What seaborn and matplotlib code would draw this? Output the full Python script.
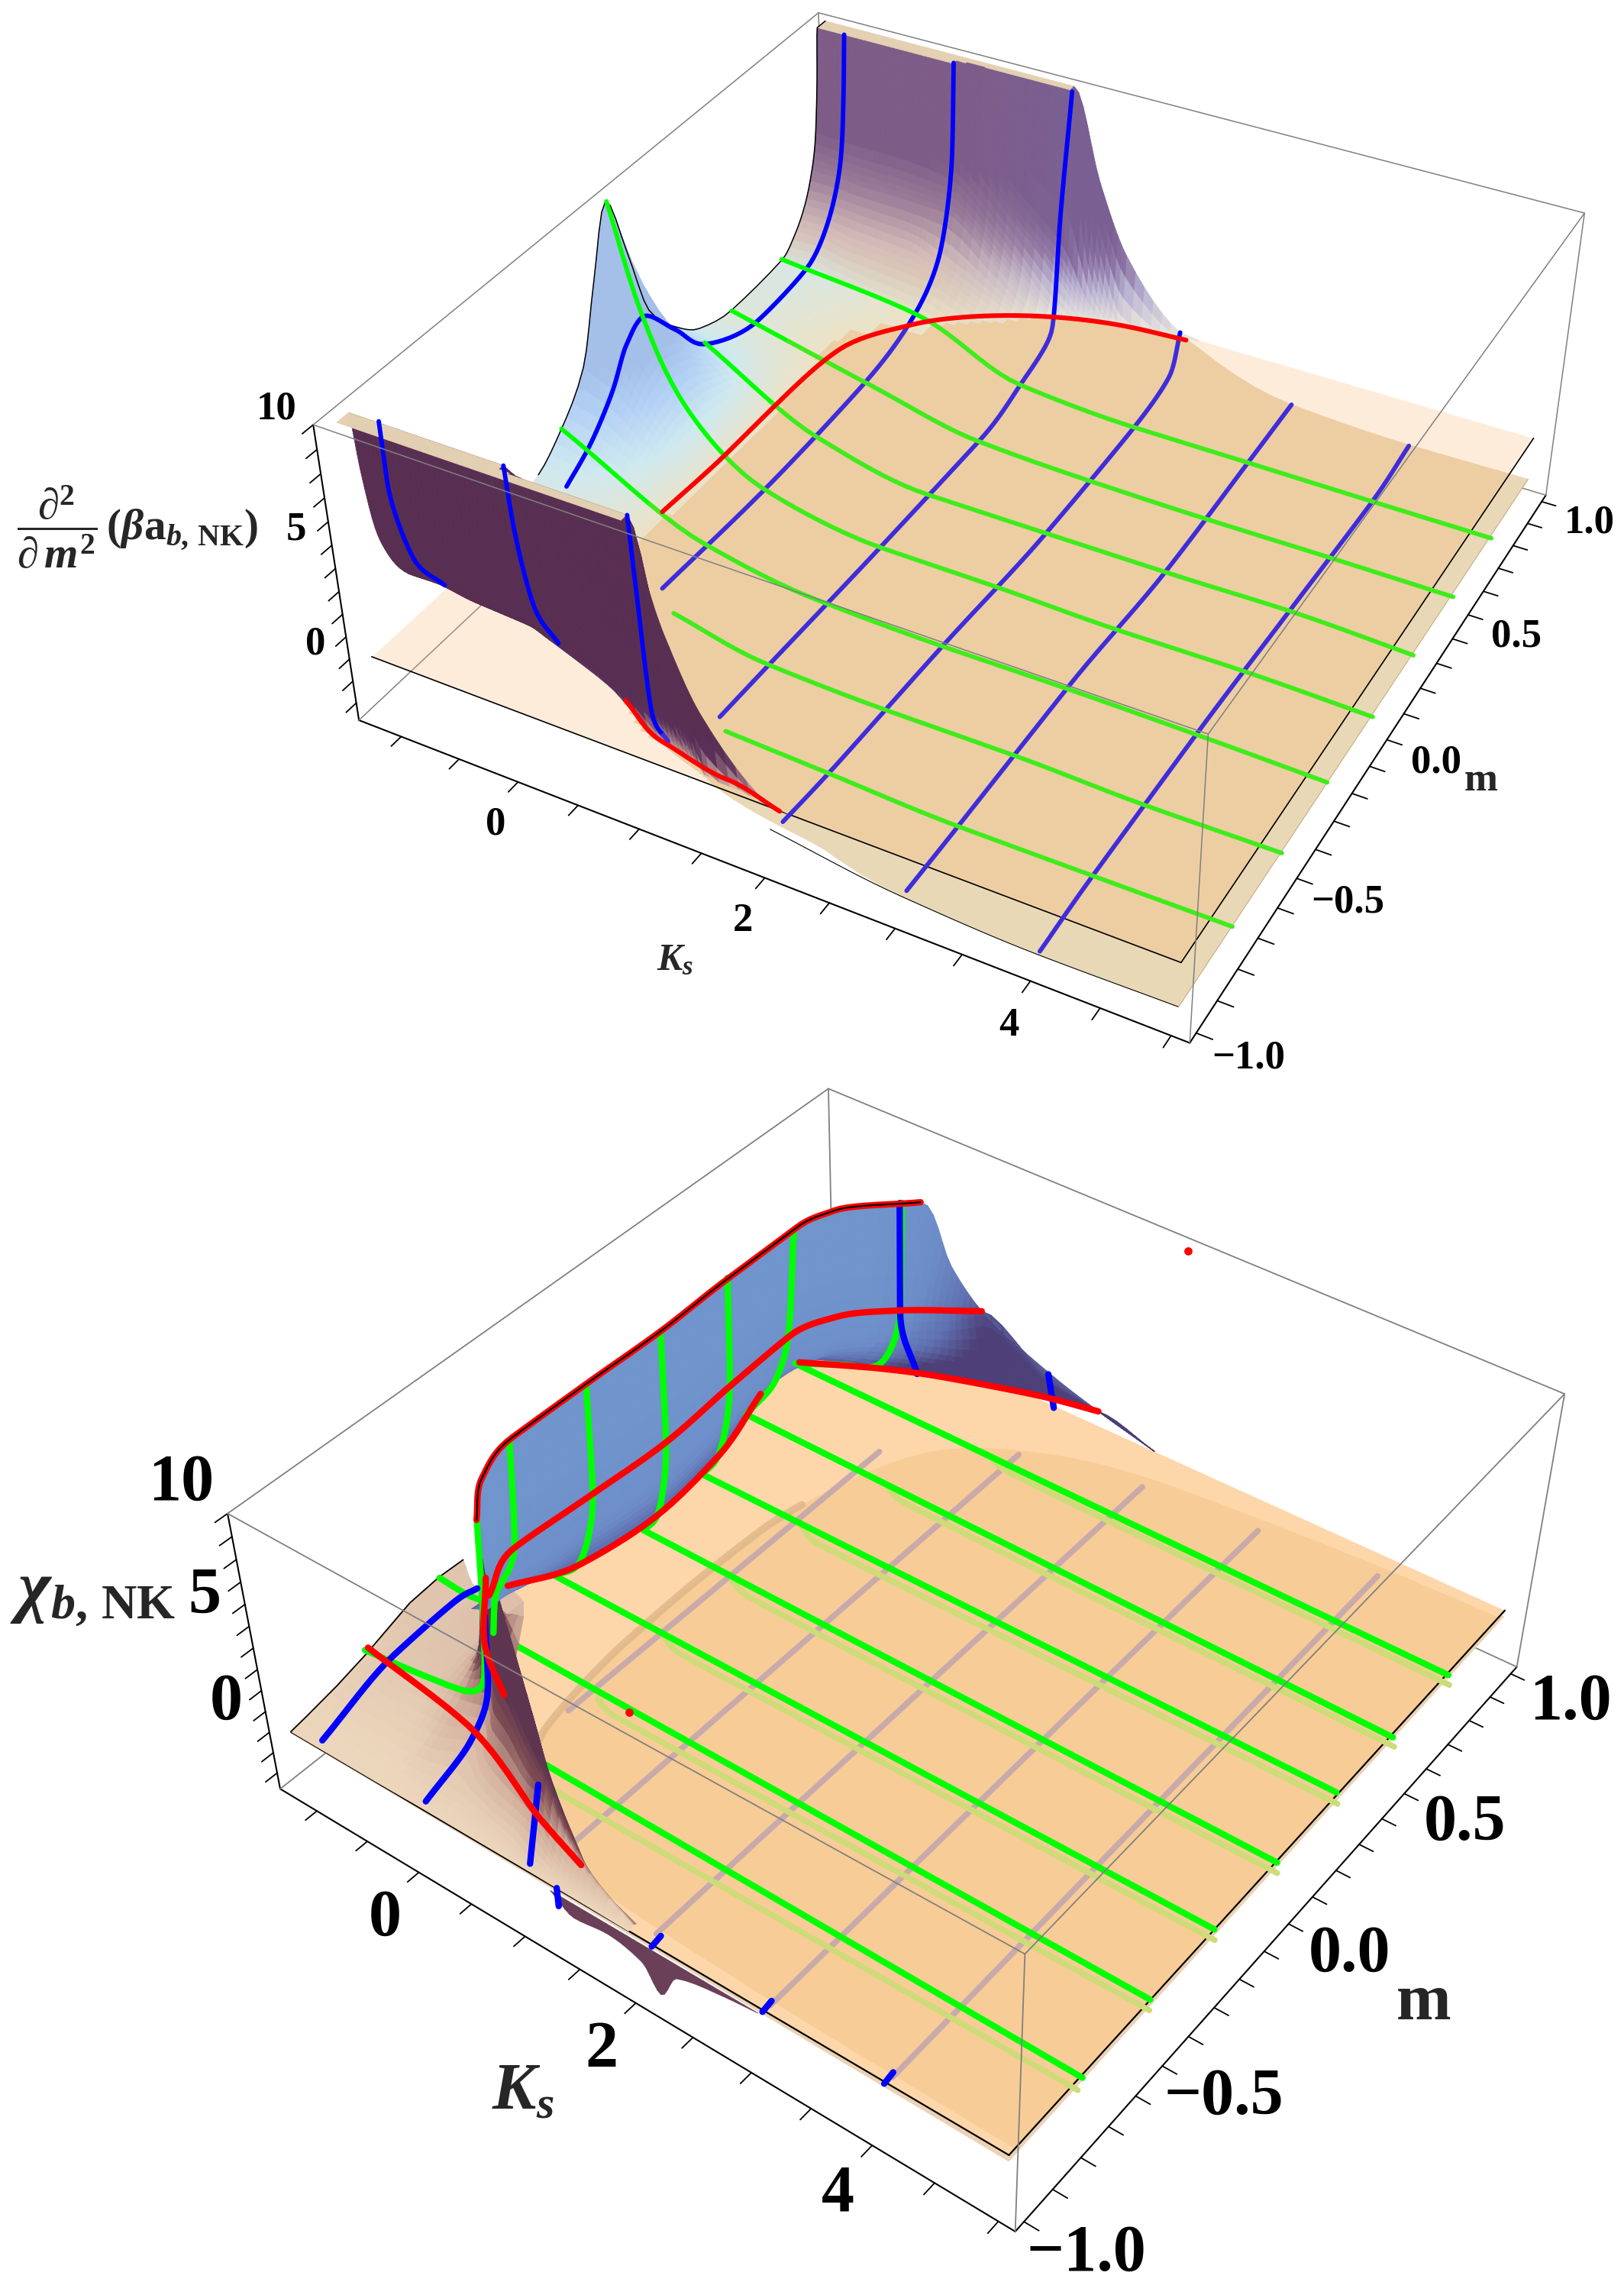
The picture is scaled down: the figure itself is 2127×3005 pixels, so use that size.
import numpy as np
import matplotlib
matplotlib.use('Agg')
import matplotlib.pyplot as plt
from matplotlib.colors import to_rgba
from matplotlib.transforms import Affine2D
from mpl_toolkits.mplot3d.art3d import Poly3DCollection
import seaborn as sns

W, H = 2127, 3005
sns.set_theme(style='white')
plt.rcParams['font.family'] = ['Liberation Serif', 'DejaVu Sans']
plt.rcParams['font.weight'] = 'bold'
plt.rcParams['mathtext.fontset'] = 'custom'
plt.rcParams['mathtext.rm'] = 'Liberation Serif:bold'
plt.rcParams['mathtext.it'] = 'Liberation Serif:italic:bold'
plt.rcParams['mathtext.bf'] = 'Liberation Serif:bold'

# ---------- axis ranges and ticks ----------
KS_RANGE = (-1.37, 5.13)
M_RANGE = (-1.03, 1.03)
Z_RANGE = (-2.8, 10)
ks_ticks = [-1, -.5, 0, .5, 1, 1.5, 2, 2.5, 3, 3.5, 4, 4.5, 5]
ks_labels = ['', '', '0', '', '', '', '2', '', '', '', '4', '', '']
m_ticks = [-1, -.9, -.8, -.7, -.6, -.5, -.4, -.3, -.2, -.1, 0, .1, .2, .3, .4, .5, .6, .7, .8, .9, 1]
m_labels = ['\u22121.0', '', '', '', '', '\u22120.5', '', '', '', '', '0.0', '', '', '', '', '0.5', '', '', '', '', '1.0']
z_ticks = [-2, -1, 0, 1, 2, 3, 4, 5, 6, 7, 8, 9, 10]
z_labels = ['', '', '0', '', '', '', '', '5', '', '', '', '', '10']

top_ks = [-1.25, -1, -.75, -.5, -.25, 0, .5, 1, 1.25, 1.5, 2, 3, 4, 5]
top_mabs = [0, .07, .14, .25, .35, .5, .75, .82, .87, .91, .93, .95, .96, .98, 1]
top_z = [
 [10, 7.2, 4.0, 2.2, 1.2, .7, .9, 1.6, 2.5, 3.8, 4.9, 7.6, 10, 10, 10],
 [5.35, 4.75, 3.4, 1.85, 1.1, .6, .95, 1.65, 2.5, 3.8, 4.85, 7.6, 10, 10, 10],
 [3, 2.8, 2.2, 1.4, .8, .35, .75, 1.4, 2.4, 3.7, 4.8, 7.6, 10, 10, 10],
 [1.2, 1.1, 1, .6, .35, .05, .5, 1.3, 2.3, 3.7, 4.8, 7.6, 10, 10, 10],
 [-.25, -.25, -.25, -.3, -.3, -.4, .3, 1.2, 2.2, 3.65, 4.7, 7.6, 10, 10, 10],
 [-.95, -.95, -.95, -.95, -.9, -.85, .12, 1, 1.7, 3.6, 4.6, 6.8, 10, 10, 10],
 [-1.55, -1.55, -1.55, -1.5, -1.45, -1.4, -.8, -.05, .55, 1.6, 2.5, 4, 5.5, 10, 10],
 [-2, -2, -2, -1.95, -1.95, -1.9, -1.6, -1.1, -.75, -.45, -.1, 1.4, 3, 10, 10],
 [-2, -2, -2, -1.95, -1.95, -1.9, -1.75, -1.5, -1.2, -.95, -.7, -.1, .6, 3, 6],
 [-2, -2, -2, -1.95, -1.95, -1.9, -1.85, -1.7, -1.5, -1.3, -1.05, -.8, -.6, -.2, 3],
 [-2, -2, -2, -2, -2, -2, -1.8, -1.7, -1.65, -1.6, -1.55, -1.45, -1.35, -.9, .1],
 [-1.95, -1.95, -1.95, -1.95, -1.95, -1.95, -1.9, -1.9, -1.85, -1.85, -1.85, -1.8, -1.8, -1.78, -1.75],
 [-2, -2, -2, -2, -2, -2, -2, -2, -2, -2, -2, -2, -2, -2, -2],
 [-1.95, -1.95, -1.95, -1.95, -1.95, -1.95, -1.95, -1.95, -1.95, -1.95, -1.95, -1.95, -1.95, -1.95, -1.95],
]

# upper panel mesh lines: (ks, m, z)
top_blue = [
 ([-1]*4, [-.96, -.96, -.91, -.82], [10.07, 7.62, 3.81, 1.65]),
 ([-1]*13, [-.35, -.25, -.14, -.07, 0, .13, .25, .5, .74, .87, .93, .95, .96], [1.1, 1.9, 3.35, 4.77, 5.34, 3.6, 1.79, .6, .92, 2.53, 4.85, 7.6, 10]),
 ([0]*4, [-.96, -.95, -.91, -.84], [10, 7.59, 3.6, 1.2]),
 ([0]*7, [-.44, 0, .5, .74, .88, .95, .96], [-.81, -.98, -.69, .12, 1.84, 6, 10.03]),
 ([1]*4, [-.98, -.97, -.95, -.9], [10, 6.72, 1.38, -.46]),
 ([1]*8, [-.7, -.5, .01, .51, .73, .9, .94, .99], [-1.77, -1.82, -1.98, -2.03, -1.47, -.51, 4.78, 9.84]),
 ([2]*7, [-.95, -.76, -.25, .26, .74, .95, 1], [-1.31, -1.51, -1.76, -2.14, -2, -1.45, .11]),
 ([3]*6, [-.98, -.76, -.25, .26, .73, 1], [-1.78, -1.8, -1.78, -2.16, -1.92, -1.76]),
 ([4]*6, [-.99, -.75, -.24, .27, .78, 1.01], [-2.03, -1.9, -1.95, -2.2, -2.46, -2.17]),
]
top_green = [
 ([-1.26, .01, .97, 1.99, 2.98, 4.03, 5], [.75]*7, [.89, .17, -1.73, -2.09, -2.11, -2.14, -2.15]),
 ([-1.25, .03, 1.01, 1.97, 2.99, 4.02, 5], [.5]*7, [.67, -.86, -1.94, -2.15, -2.21, -2.19, -2.2]),
 ([-.99, .02, .99, 2.02, 3.02, 4.02, 5], [.25]*7, [1.88, -.96, -1.98, -1.99, -1.99, -1.92, -2.1]),
 ([-1.24, -1, -.68, -.01, 1.03, 2, 2.98, 4.01, 5.01], [0]*9, [10.03, 5.48, 2, -.82, -1.79, -1.82, -1.93, -1.88, -1.99]),
 ([-1.24, -.02, .95, 1.99, 3, 4.01, 5], [-.25]*7, [2.31, -.85, -1.67, -1.81, -1.78, -1.83, -1.94]),
 ([.22, 1, 1.97, 3, 4, 5.01], [-.5]*6, [-.87, -1.7, -1.86, -1.84, -1.97, -1.92]),
 ([1.15, 1.98, 2.99, 4, 5.01], [-.75]*5, [-1.51, -1.7, -1.93, -1.91, -1.87]),
]
top_red = [
 ([-.38, -.33, -.35, -.25, 0, .5, 1, 1.5, 2], [-.25, 0, .25, .5, .73, .83, .93, 1, 1.04], [-.01, .13, .03, .38, -.17, .12, -.08, -.36, -.63]),
 ([.6, 1, 1.5, 2], [-.87, -.92, -.92, -.96], [.2, -.23, -.85, -.71]),
]

# ---------- lower panel ----------
sheet_ks = [-1.25, 3, 4, 5]
sheet_mabs = [0, .9, .95, 1]
sheet_z = [
 [-.05, -.05, -.05, -.05],
 [-.2, -.2, -.2, -.2],
 [-.25, -.25, -.25, -.25],
 [-.3, -.3, -.3, -.3],
]
# outline of the dome seen through the plate, as (ks, m) on z = 0
dome_ks = [5, 4.07, 1.97, 1.16, .51, .2, .03, .01, .03, .19, .4, .6, 1, 3, 5]
dome_m = [.97, .96, .9, .82, .67, .45, .17, -.08, -.33, -.67, -.76, -.85, -.93, -.97, -.98]
# hump left of the wall: one row of m and z per ks station
hump_ks = [-1.25, -1, -.75, -.5, -.25, 0, .25, .5, .75, 1, 1.25, 1.5, 1.9]
hump_m = [
 [-1, -.95, -.85, -.75, -.6, -.5, -.42],
 [-1, -.95, -.85, -.74, -.6, -.53, -.46],
 [-1, -.95, -.85, -.75, -.65, -.55, -.45],
 [-1, -.95, -.85, -.75, -.65, -.55, -.47],
 [-1, -.95, -.85, -.75, -.7, -.66, -.62],
 [-1, -.95, -.83, -.76, -.74, -.72, -.69],
 [-1, -.95, -.88, -.82, -.79, -.77, -.745],
 [-1, -.96, -.91, -.86, -.84, -.82, -.8],
 [-1, -.97, -.93, -.9, -.88, -.86, -.84],
 [-1, -.99, -.96, -.94, -.92, -.9, -.885],
 [-1, -.99, -.98, -.96, -.95, -.93, -.92],
 [-1, -.995, -.99, -.98, -.97, -.96, -.945],
 [-1, -.998, -.995, -.99, -.985, -.98, -.975],
]
hump_z = [
 [.02, .15, .45, .85, 1.6, 1.75, 1.7],
 [.02, .1, .65, 1.32, 1.6, 1.6, 1.41],
 [.02, .1, .7, 1.4, 1.8, 2, 2],
 [.02, .1, .75, 1.7, 2, 2.2, 2.2],
 [.03, .15, .85, 2, 3, 6, .3],
 [.05, .2, 1.04, 2.51, 5.87, 10, .1],
 [.05, .25, 1, 3, 6, 8, .05],
 [.05, .3, 1.1, 3.2, 5.5, 7, .03],
 [.05, .3, 1.2, 3, 4.5, 5, .02],
 [.05, .24, 1.5, 3.34, 4, 3, .02],
 [.03, .2, .7, 1.6, 2.2, 1.5, .02],
 [.02, .1, .4, .9, 1.1, .6, .02],
 [0, 0, .05, .1, .1, .05, 0],
]
# wall: stations from the near end to the far tail; top, middle, low and base rows
wall_ks = [
 [0, -.27, -.4, -.39, -.37, -.39, -.39, -.3, .15, .33, .53, .99, 1.4, 1.9],
 [-.27, -.35, -.47, -.42, -.38, -.43, -.46, -.32, .01, .3, .53, .99, 1.4, 1.9],
 [-.6, -.6, -.6, -.55, -.48, -.55, -.65, -.5, -.15, .2, .55, .99, 1.4, 1.9],
 [-.95, -.91, -.8, -.65, -.55, -.63, -.86, -.87, -.32, .01, .6, .99, 1.4, 1.9],
]
wall_m = [
 [-.73, -.62, -.48, -.24, .01, .25, .51, .62, .77, .82, .86, .945, .98, 1],
 [-.64, -.57, -.49, -.24, 0, .26, .5, .63, .74, .8, .86, .945, .98, 1],
 [-.55, -.5, -.45, -.24, .01, .26, .52, .68, .78, .83, .88, .947, .98, 1],
 [-.5, -.39, -.35, -.24, .01, .27, .53, .69, .79, .84, .9, .95, .98, 1],
]
wall_z = [
 [10, 10, 10, 10, 10, 10, 10, 10, 10, 7, 5, 2.3, 1, 0],
 [5, 5, 5, 5, 5, 5, 5, 5, 5, 5, 5, 2, 1, 0],
 [2.5, 2.5, 2.5, 2.5, 2.5, 2.5, 2.5, 2.5, 2.5, 2.5, 2.5, 1.5, 1, 0],
 [1, 1, 1, 1, 1, 1, 1, 1, 1, 1, 1, 1, 1, 0],
]
# skirt hanging below the near edge
skirt_ks = [1.2, 1.4, 1.7, 2, 2.15, 2.3, 2.7, 3]
skirt_z = [-.3, -1, -.8, -1.2, -2.3, -1, -.5, -.3]

low_bright = [
 ([-1.07, 4.98], [.75, .75], [-.08, -.37]), ([-.94, 4.98], [.5, .5], [.09, -.45]),
 ([-.74, 4.98], [.25, .25], [.11, -.05]), ([-.66, 4.99], [0, 0], [.14, -.22]),
 ([-.87, 4.99], [-.25, -.25], [.09, -.11]), ([-.75, 5], [-.5, -.5], [.37, .02]),
 ([.22, 5.01], [-.75, -.75], [.37, -.06]),
]
low_wall_green = [
 ([.02, 0, -.22, -.62, -1.07], [.75]*5, [9.88, 4.89, 1.77, .88, -.08]),
 ([-.39, -.48, -.62, -.94], [.5]*4, [10.01, 4.93, 2.54, .09]),
 ([-.38, -.41, -.57, -.74], [.25]*4, [10.1, 5.11, 1.36, .11]),
 ([-.35, -.37, -.51, -.66], [0]*4, [10.11, 5.04, 1.24, .14]),
 ([-.36, -.39, -.61, -.87], [-.25]*4, [10.16, 5.18, 1.25, .09]),
 ([-.36, -.43, -.69, -.75], [-.5]*4, [10.2, 5.26, 2.19, .37]),
 ([.07, .02, -.06, -.22, -.71, -1.26], [-.75]*6, [10.27, 6.18, 2.81, 1.9, 1.37, 1]),
 ([-1.25, -1, -.85], [-.5]*3, [1.7, 1.6, 1.7]),
]
low_pale_green = [
 ([.85, 1.0, 5], [.75]*3, [-.1, -.5, -.8]), ([.45, .6, 5], [.5]*3, [-.1, -.5, -.85]), ([.25, .4, 5], [.25]*3, [-.1, -.5, -.55]),
 ([.2, .35, 5], [0]*3, [-.1, -.5, -.7]), ([.2, .35, 5], [-.25]*3, [-.1, -.5, -.6]), ([.25, .4, 5], [-.5]*3, [-.1, -.5, -.5]),
 ([.38, .53, 5], [-.76]*3, [-.1, -.5, -.55]),
]
low_mauve = [
 ([.1, .1], [-.55, .62], [-.5, -.5]), ([1, 1], [-.88, .82], [-.5, -.5]), ([2, 2], [-.95, .9], [-.5, -.5]),
 ([3, 3], [-.96, .93], [-.5, -.5]), ([4, 4], [-.96, .96], [-.5, -.5]),
]
low_red = [
 ([0, -.27, -.4, -.39, -.37, -.39, -.39, -.3, .15], [-.73, -.62, -.48, -.24, .01, .25, .51, .62, .77], [10]*9),
 ([-.27, -.47, -.42, -.38, -.43, -.46, -.32, .01, .53], [-.64, -.49, -.24, 0, .26, .5, .63, .74, .86], [5]*9),
 ([-.91, -.65, -.55, -.63, -.86], [-.39, -.24, .01, .27, .53], [1]*5),
 ([-.87, -.32, .01, .99, 1.4], [.69, .79, .84, .95, .98], [1]*5),
 ([-1.26, -.14, .88, 1.39], [-.74, -.79, -.91, -.96], [1]*4),
 ([-1.1, -.58, -.14], [-.4, -.58, -.67], [1]*3),
]
low_blue = [
 ([-1]*4, [-.98, -.74, -.53, -.46], [.07, 1.32, 1.6, 1.41]),
 ([0]*4, [-.98, -.83, -.76, -.74], [.06, 1.04, 2.51, 5.87]),
 ([1]*2, [-.99, -.94], [.24, 3.34]),
 ([1, 1], [-.92, -.92], [-1.88, -2.78]),
 ([0]*3, [.75, .75, .82], [9.83, 4.87, 1.16]),
 ([1]*2, [.94, .97], [2.28, .34]),
 ([2.1, 2.1], [-1, -.97], [-.1, 0]), ([3.04, 3.04], [-1, -.97], [-.1, 0]), ([4.03, 4.03], [-1, -.97], [-.1, 0]),
]
red_dots = ([2.1, .55], [.985, -.5], [10, .1])

# ---------- colours ----------
BEIGE = '#e8d8b6'
PLANE_TOP = '#fcb46c'
PLATE_LIGHT = '#fdd6aa'
PLATE_DOME = '#f8cc96'
DOME_EDGE = '#d9b285'
STRIP = '#ebd2b4'
BLUE, GREEN, RED = '#0000ff', '#00ff00', '#ff0000'
BLUE_DIM, GREEN_DIM = '#3f2dda', '#3fec1b'
MAUVE, PALE_GREEN = '#c8aaaa', '#cddc78'
front_cmap = sns.blend_palette([BEIGE, '#a88088', '#58305a', '#582f52'], as_cmap=True)
far_cmap = sns.blend_palette([BEIGE, '#d3bcb8', '#9a7c98', '#7d5c88'], as_cmap=True)
far_blue_cmap = sns.blend_palette(['#e6e2dc', '#bcb6d4', '#8a72a4', '#7a5f92'], as_cmap=True)
ridge_cmap = sns.blend_palette(['#ebe3c8', '#cfe9f0', '#b4d2f5', '#a4bfe8'], as_cmap=True)
hump_cmap = sns.blend_palette(['#ecd6bc', '#d0ac9a', '#7c4a52', '#5e3550'], as_cmap=True)
wall_cmap = sns.blend_palette(['#7094cc', '#6c8cc8', '#5f70b0', '#4d3f78'], as_cmap=True)


# ---------- drawing helpers ----------
def pchip(x, y, xn):
    """Monotone cubic curve through the read values (a drawing smoother)."""
    x, y = np.asarray(x, float), np.asarray(y, float)
    if len(x) == 2:
        return np.interp(xn, x, y)
    h = np.diff(x)
    d = np.diff(y) / h
    t = np.zeros_like(y)
    for i in range(1, len(x) - 1):
        if d[i - 1] * d[i] > 0:
            a = 2 * h[i] + h[i - 1]
            b = h[i] + 2 * h[i - 1]
            t[i] = (a + b) / (a / d[i - 1] + b / d[i])
    t[0], t[-1] = d[0], d[-1]
    i = np.clip(np.searchsorted(x, xn, side='right') - 1, 0, len(h) - 1)
    s = (xn - x[i]) / h[i]
    return (y[i] * (1 + 2 * s) * (1 - s) ** 2 + h[i] * t[i] * s * (1 - s) ** 2
            + y[i + 1] * s ** 2 * (3 - 2 * s) + h[i] * t[i + 1] * s ** 2 * (s - 1))


def fine(x, n):
    x = np.asarray(x, float)
    return np.concatenate([np.linspace(x[i], x[i + 1], n, endpoint=False) for i in range(len(x) - 1)] + [x[-1:]])


def fine_grid(A, xr, xc, nr, nc):
    A = np.asarray(A, float)
    xr2, xc2 = fine(xr, nr), fine(xc, nc)
    B = np.array([pchip(xc, row, xc2) for row in A])
    return np.array([pchip(xr, col, xr2) for col in B.T]).T


def smooth_line(k, m, z, n=10):
    t = np.arange(len(k), dtype=float)
    tn = fine(t, n)
    return pchip(t, k, tn), pchip(t, m, tn), pchip(t, z, tn)


def offset_labels(ax, axis, dx, dy):
    orig = axis.get_major_ticks
    tr = ax.transData + Affine2D().translate(dx, dy)

    def patched(numticks=None):
        ticks = orig(numticks)
        for t in ticks:
            t.label1.set_transform(tr)
        return ticks
    axis.get_major_ticks = patched


def make_ax(elev, azim, roll, focal, aspect, x0, y0, L):
    ax = fig.add_axes([x0 / W, y0 / H, L / W, L / H], projection='3d')
    ax.patch.set_visible(False)
    ax.computed_zorder = False
    ax.set_xlim(*KS_RANGE, view_margin=0)
    ax.set_ylim(*M_RANGE, view_margin=0)
    ax.set_zlim(*Z_RANGE, view_margin=0)
    ax.view_init(elev, azim, roll)
    ax.set_proj_type('persp', focal_length=focal)
    ax.set_box_aspect(aspect)
    ax.grid(False)
    for a in (ax.xaxis, ax.yaxis, ax.zaxis):
        a.pane.set_visible(False)
        a.line.set_color('black')
        a.line.set_linewidth(1.5)
    ax.zaxis.set_ticks_position('lower')
    return ax


def set_ticks(ax, size, pads, offsets):
    ax.set_xticks(ks_ticks, ks_labels)
    ax.set_yticks(m_ticks, m_labels)
    ax.set_zticks(z_ticks, z_labels)
    for a, name, pad, off in ((ax.xaxis, 'x', pads[0], offsets[0]), (ax.yaxis, 'y', pads[1], offsets[1]),
                              (ax.zaxis, 'z', pads[2], offsets[2])):
        a._axinfo['tick'].update(inward_factor=.22, outward_factor=0,
                                 linewidth={True: 1.3, False: 1.0})
        ax.tick_params(axis=name, labelsize=size, pad=pad, colors='black')
        offset_labels(ax, a, *off)
    for t in ax.get_xticklabels() + ax.get_yticklabels() + ax.get_zticklabels():
        t.set_fontweight('bold')


def box(ax, back_z, front_z, lw):
    k0, k1 = KS_RANGE
    m0, m1 = M_RANGE
    z0, z1 = Z_RANGE
    gray = '#808080'
    for xs, ys, zs, o in (
        ((k0, k0), (m1, m1), (z0, z1), back_z), ((k0, k0), (m0, m1), (z0, z0), back_z),
        ((k0, k1), (m1, m1), (z0, z0), back_z), ((k0, k1), (m1, m1), (z1, z1), back_z),
        ((k0, k0), (m0, m1), (z1, z1), back_z), ((k1, k1), (m1, m1), (z0, z1), front_z),
        ((k0, k1), (m0, m0), (z1, z1), front_z), ((k1, k1), (m0, m1), (z1, z1), front_z),
        ((k1, k1), (m0, m0), (z0, z1), front_z)):
        ax.plot(xs, ys, zs, color=gray, lw=lw, zorder=o, clip_on=False)


def surf(ax, X, Y, Z, colors, order):
    s = ax.plot_surface(X, Y, Z, facecolors=colors, rstride=1, cstride=1, shade=False,
                        linewidth=.6, antialiased=True)
    s.set_zorder(order)
    s.set_clip_on(False)
    return s


def cell(A):
    return (A[:-1, :-1] + A[1:, :-1] + A[:-1, 1:] + A[1:, 1:]) / 4


def corner_min(A):
    return np.minimum.reduce([A[:-1, :-1], A[1:, :-1], A[:-1, 1:], A[1:, 1:]])


def corner_max(A):
    return np.maximum.reduce([A[:-1, :-1], A[1:, :-1], A[:-1, 1:], A[1:, 1:]])


def split_line(ax, k, m, z, color, dim, lw, order):
    k, m, z = smooth_line(k, m, z)
    start = 0
    for i in range(1, len(z)):
        below = z[i - 1] + z[i] < 0
        if i == len(z) - 1 or (z[i] + z[i + 1] < 0) != below:
            ax.plot(k[start:i + 1], m[start:i + 1], z[start:i + 1], color=dim if below else color, lw=lw,
                    zorder=order, clip_on=False, solid_capstyle='round', solid_joinstyle='round')
            start = i


def curve(ax, k, m, z, color, lw, order):
    k, m, z = smooth_line(k, m, z)
    ax.plot(k, m, z, color=color, lw=lw, zorder=order, clip_on=False,
            solid_capstyle='round', solid_joinstyle='round')


fig = plt.figure(figsize=(W / 100, H / 100), dpi=100)
fig.patch.set_facecolor('white')

# =============== upper panel ===============
ax1 = make_ax(36.207, -61.8293, -.1111, float(np.exp(-.8149)),
              (float(np.exp(.9266)), float(np.exp(.932)), 1), 416.7, 1531.1, 1689.9)
set_ticks(ax1, 38, (10, 10, 12), ((-10, 0), (34, 15), (10, 54)))
box(ax1, 1, 20, 1.1)

half = np.array(top_z, float).T
mm = np.concatenate([-np.array(top_mabs[:0:-1]), top_mabs])
ZT = fine_grid(np.vstack([half[:0:-1], half]), mm, top_ks, 4, 6)
mm_f, ks_f = fine(mm, 4), fine(top_ks, 6)
KK, MM = np.meshgrid(ks_f, mm_f)
ZC, MC, KC = cell(ZT), cell(MM), cell(KK)

low_col = np.zeros(ZC.shape + (4,))
low_col[...] = to_rgba(BEIGE)
low_col[corner_min(ZT) >= 0] = 0
surf(ax1, KK, MM, np.minimum(ZT, 0), low_col, 2)

# z = 0 plane, then the parts of the surface above it
px, py = np.meshgrid([-1.25, 5], [-1, 1])
plane = ax1.plot_surface(px, py, np.zeros_like(px, dtype=float), color=PLANE_TOP, alpha=.25, shade=False, linewidth=0)
plane.set_zorder(4)
plane.set_clip_on(False)
for xs, ys in (((-1.25, 5), (-1, -1)), ((5, 5), (-1, 1))):
    ax1.plot(xs, ys, (0, 0), color='black', lw=1.2, zorder=5, clip_on=False)
curve(ax1, [2, 3, 4, 5], [-1] * 4, [-1.0, -1.77, -2.03, -1.95], 'black', .8, 5)
ax1.plot([5, 5], [-1, 1], [-1.95, -1.95], color='#c8b088', lw=.8, zorder=5)

ridge = ridge_cmap(np.clip(ZC / 4, 0, 1))
front = front_cmap(np.clip((ZC + .3) / 2.4, 0, 1))
w_k = np.clip(KC / 1.0, 0, 1)[..., None]
far = far_cmap(np.clip(ZC / 5.5, 0, 1)) * (1 - w_k) + far_blue_cmap(np.clip(ZC / 4, 0, 1)) * w_k
w_f = np.clip((np.abs(MC) - .72) / .1, 0, 1)[..., None]
up_col = ridge * (1 - w_f) + np.where((MC < 0)[..., None], front, far) * w_f
up_col[corner_min(ZT) >= 9.98] = to_rgba('#e4d0b2')
up_col[corner_max(ZT) <= 0] = 0
surf(ax1, KK, MM, np.maximum(ZT, 0), up_col, 6)

edge = mm_f >= -.36
ax1.plot(np.full(edge.sum(), -1.25), mm_f[edge], ZT[edge, 0], color='black', lw=1.1, zorder=6.5, clip_on=False)
for k, m, z in top_blue:
    split_line(ax1, k, m, z, BLUE, BLUE_DIM, 4.2, 7)
for k, m, z in top_green:
    split_line(ax1, k, m, z, GREEN, GREEN_DIM, 4.2, 7.5)
for k, m, z in top_red:
    curve(ax1, k, m, z, RED, 4.4, 8)

fig.text(180 / W, 1 - 690 / H,
         r'$\dfrac{\partial^{2}}{\partial\, m^{2}}\,(\beta\mathbf{a}_{b,\,\mathrm{NK}})$',
         fontsize=41, ha='center', va='center')
fig.text(884 / W, 1 - 1258 / H, r'$K_s$', fontsize=36, ha='center', va='center')
fig.text(1940 / W, 1 - 1022 / H, 'm', fontsize=38, ha='center', va='center', fontweight='bold')

# =============== lower panel ===============
ax2 = make_ax(41.6993, -53.0482, .0592, float(np.exp(-.8153)),
              (float(np.exp(.9181)), float(np.exp(.9155)), 1), 313.4, 36.8, 1713.6)
set_ticks(ax2, 62, (8, 6, 16), ((-25, 4), (58, 18), (8, 84)))
box(ax2, 1, 20, 1.3)

# sheet just under the plate, showing as a strip along the near edges
half = np.array(sheet_z, float).T
mm2 = np.concatenate([-np.array(sheet_mabs[:0:-1]), sheet_mabs])
ZS = np.vstack([half[:0:-1], half])
K2, M2 = np.meshgrid(sheet_ks, mm2)
strip = np.zeros((ZS.shape[0] - 1, ZS.shape[1] - 1, 4))
strip[...] = to_rgba(STRIP)
surf(ax2, K2, M2, ZS, strip, 2)

# skirt
sk = fine(skirt_ks, 5)
SX = np.vstack([sk, sk])
SY = np.full_like(SX, -1.0)
SZ = np.vstack([pchip(skirt_ks, skirt_z, sk), np.full(len(sk), -.3)])
skc = np.zeros((1, len(sk) - 1, 4))
skc[...] = to_rgba('#6a3f58')
surf(ax2, SX, SY, SZ, skc, 2.5)

# plate and dome
px, py = np.meshgrid([-1.25, 5], [-1, 1])
plate = ax2.plot_surface(px, py, np.zeros_like(px, dtype=float), color=PLATE_LIGHT, shade=False, linewidth=0)
plate.set_zorder(3)
plate.set_clip_on(False)
dk, dm, _ = smooth_line(dome_ks, dome_m, np.zeros(len(dome_ks)))
dome = Poly3DCollection([list(zip(dk, dm, np.zeros(len(dk))))], facecolors=PLATE_DOME, edgecolors='none')
dome.set_zorder(3.2)
dome.set_clip_on(False)
ax2.add_collection3d(dome)
ax2.plot(dk[55:108], dm[55:108], np.zeros(53), color=DOME_EDGE, lw=7, alpha=.7, zorder=3.3, clip_on=False)
for xs, ys in (((-1.25, 5), (-1, -1)), ((5, 5), (-1, 1))):
    ax2.plot(xs, ys, (0, 0), color='black', lw=1.6, zorder=3.5, clip_on=False)

for k, m, z in low_mauve:
    ax2.plot(k, m, z, color=MAUVE, lw=5.5, zorder=4, clip_on=False)
for k, m, z in low_pale_green:
    curve(ax2, k, m, z, PALE_GREEN, 5.5, 4.2)
for k, m, z in low_bright:
    ax2.plot(k, m, z, color=GREEN, lw=6, zorder=6, clip_on=False)

# hump
nr, nc = 4, 4
ir, ic = np.arange(13.), np.arange(7.)
HK = fine_grid(np.repeat(np.array(hump_ks)[:, None], 7, axis=1), ir, ic, nr, nc)
HM = fine_grid(hump_m, ir, ic, nr, nc)
HZ = fine_grid(hump_z, ir, ic, nr, nc)
JJ, II = np.meshgrid(fine(ic, nc), fine(ir, nr))
ridge_w = np.clip(cell(II) - 3, 0, 1)
hc = hump_cmap(np.clip(cell(HZ) / (12 - 7 * ridge_w) + np.clip(cell(JJ) - 3.5, 0, 1) * .45 * ridge_w, 0, 1))
surf(ax2, HK, HM, HZ, hc, 7)
ax2.plot(np.full(7, -1.25), hump_m[0], hump_z[0], color='black', lw=1.3, zorder=7.5, clip_on=False)

# wall
ir, ic = np.arange(4.), np.arange(14.)
WK = fine_grid(wall_ks, ir, ic, 5, 6)
WM = fine_grid(wall_m, ir, ic, 5, 6)
WZ = fine_grid(wall_z, ir, ic, 5, 6)
SS, RR = np.meshgrid(fine(ic, 6), fine(ir, 5))
wc = wall_cmap(np.clip((cell(RR) / 3) ** 2 * .8 + np.clip(cell(SS) - 7.5, 0, 2.5) / 2.5 * .8, 0, 1))
surf(ax2, WK, WM, WZ, wc, 8)

for k, m, z in low_wall_green:
    curve(ax2, k, m, z, GREEN, 6, 9)
for k, m, z in low_blue:
    curve(ax2, k, m, z, BLUE, 6, 9.5)
for n, (k, m, z) in enumerate(low_red):
    curve(ax2, k, m, z, RED, 6, 10)
k, m, z = low_red[0]
curve(ax2, k, m, z, 'black', 1.6, 10.5)
ax2.scatter(*red_dots, color=RED, s=45, depthshade=False, zorder=10, clip_on=False)

fig.text(122 / W, 1 - 2091 / H, r'$\chi_{b,\,\mathrm{NK}}$', fontsize=66, ha='center', va='center')
fig.text(685 / W, 1 - 2741 / H, r'$K_s$', fontsize=62, ha='center', va='center')
fig.text(1865 / W, 1 - 2623 / H, 'm', fontsize=62, ha='center', va='center', fontweight='bold')

fig.savefig('out.png', dpi=100, facecolor='white')
